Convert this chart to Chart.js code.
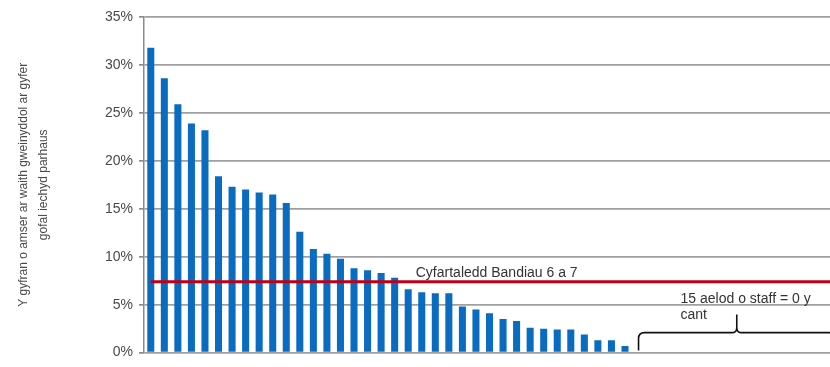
<!DOCTYPE html>
<html>
<head>
<meta charset="utf-8">
<script src="https://cdn.jsdelivr.net/npm/chart.js@4.4.1/dist/chart.umd.min.js"></script>
<style>
  html, body { margin: 0; padding: 0; background: #ffffff; overflow: hidden; }
  /* plot runs slightly past the right edge of the window */
  #wrap { width: 835px; height: 367px; position: relative; }
</style>
</head>
<body>
<div id="wrap"><canvas id="chart"></canvas></div>
<script>
// Staff members, one bar each (ordered by share of time)
const staffMembers = [
  '1','2','3','4','5','6','7','8','9','10',
  '11','12','13','14','15','16','17','18','19','20',
  '21','22','23','24','25','26','27','28','29','30',
  '31','32','33','34','35','36','37','38','39','40',
  '41','42','43','44','45','46','47','48','49','50','51'
];

// Share of time spent on continuing-care administration (%)
const timeShare = [
  31.8, 28.6, 25.9, 23.9, 23.2, 18.4, 17.3, 17.0, 16.7, 16.5,
  15.6, 12.6, 10.8, 10.3, 9.8, 8.8, 8.6, 8.3, 7.8, 6.6,
  6.3, 6.2, 6.2, 4.8, 4.5, 4.1, 3.5, 3.3, 2.6, 2.5,
  2.4, 2.4, 1.9, 1.3, 1.3, 0.7,
  0, 0, 0, 0, 0, 0, 0, 0, 0, 0, 0, 0, 0, 0, 0
];

// Average for Bands 6 and 7 (%)
const bandAverage = 7.4;
const averageLabel = 'Cyfartaledd Bandiau 6 a 7';

// Staff with no time recorded (first index of the bracketed group)
const zeroGroupStart = 36;
const zeroGroupLabel = ['15 aelod o staff = 0 y', 'cant'];

// Y axis
const yTickValues = [0, 5, 10, 15, 20, 25, 30, 35];
const yAxisTitle = ['Y gyfran o amser ar waith gweinyddol ar gyfer', 'gofal iechyd parhaus'];

const FONT = "'Liberation Sans', Arial, sans-serif";

const overlayPlugin = {
  id: 'overlay',
  afterDatasetsDraw(chart) {
    const { ctx, chartArea } = chart;
    const xs = chart.scales.x;
    const ys = chart.scales.y;

    // Band average line
    const yAvg = ys.getPixelForValue(bandAverage);
    ctx.save();
    ctx.strokeStyle = '#c00018';
    ctx.lineWidth = 3;
    ctx.beginPath();
    ctx.moveTo(xs.getPixelForValue(0), yAvg);
    ctx.lineTo(chartArea.right, yAvg);
    ctx.stroke();

    ctx.fillStyle = '#333333';
    ctx.font = '14px ' + FONT;
    ctx.textAlign = 'left';
    ctx.textBaseline = 'alphabetic';
    ctx.fillText(averageLabel, xs.getPixelForValue(20) - 6, yAvg - 5);

    // Bracket over staff with zero time
    const x0 = xs.getPixelForValue(zeroGroupStart);
    const x1 = chartArea.right;
    const mid = (x0 + x1) / 2;
    const yb = chartArea.bottom - 2;
    const yh = chartArea.bottom - 20;
    const yt = chartArea.bottom - 38;
    const r = 6;
    ctx.strokeStyle = '#111111';
    ctx.lineWidth = 1.6;
    ctx.beginPath();
    ctx.moveTo(x0, yb);
    ctx.lineTo(x0, yh + r);
    ctx.quadraticCurveTo(x0, yh, x0 + r, yh);
    ctx.lineTo(mid - 4, yh);
    ctx.quadraticCurveTo(mid, yh, mid, yh - 5);
    ctx.lineTo(mid, yt);
    ctx.moveTo(mid, yh - 5);
    ctx.quadraticCurveTo(mid, yh, mid + 4, yh);
    ctx.lineTo(x1 - r, yh);
    ctx.quadraticCurveTo(x1, yh, x1, yh + r);
    ctx.lineTo(x1, yb);
    ctx.stroke();

    ctx.fillStyle = '#333333';
    ctx.font = '14px ' + FONT;
    ctx.fillText(zeroGroupLabel[0], x0 + 42, chartArea.bottom - 50);
    ctx.fillText(zeroGroupLabel[1], x0 + 42, chartArea.bottom - 34);
    ctx.restore();
  }
};

new Chart(document.getElementById('chart'), {
  type: 'bar',
  data: {
    labels: staffMembers,
    datasets: [{
      data: timeShare,
      backgroundColor: '#0a6cc0',
      borderWidth: 0,
      barPercentage: 0.52,
      categoryPercentage: 1.0
    }]
  },
  options: {
    responsive: true,
    maintainAspectRatio: false,
    animation: false,
    layout: { padding: { top: 17, right: 0, bottom: 9, left: 0 } },
    plugins: {
      legend: { display: false },
      tooltip: { enabled: false }
    },
    scales: {
      x: {
        display: false,
        offset: true
      },
      y: {
        min: 0,
        max: 35,
        afterBuildTicks(scale) {
          scale.ticks = yTickValues.map(v => ({ value: v }));
        },
        afterFit(scale) { scale.width = 144; },
        ticks: {
          callback: v => v + '%',
          color: '#4a4a4a',
          font: { family: FONT, size: 14 },
          padding: 6
        },
        grid: {
          color: '#a0a0a0',
          lineWidth: 1.7,
          tickLength: 5,
          tickColor: '#8a8a8a'
        },
        border: { display: true, color: '#8a8a8a', width: 1.5 },
        title: {
          display: true,
          text: yAxisTitle,
          color: '#4a4a4a',
          font: { family: FONT, size: 12, lineHeight: 1.7 },
          padding: { top: 13, bottom: 0 }
        }
      }
    }
  },
  plugins: [overlayPlugin]
});
</script>
</body>
</html>
